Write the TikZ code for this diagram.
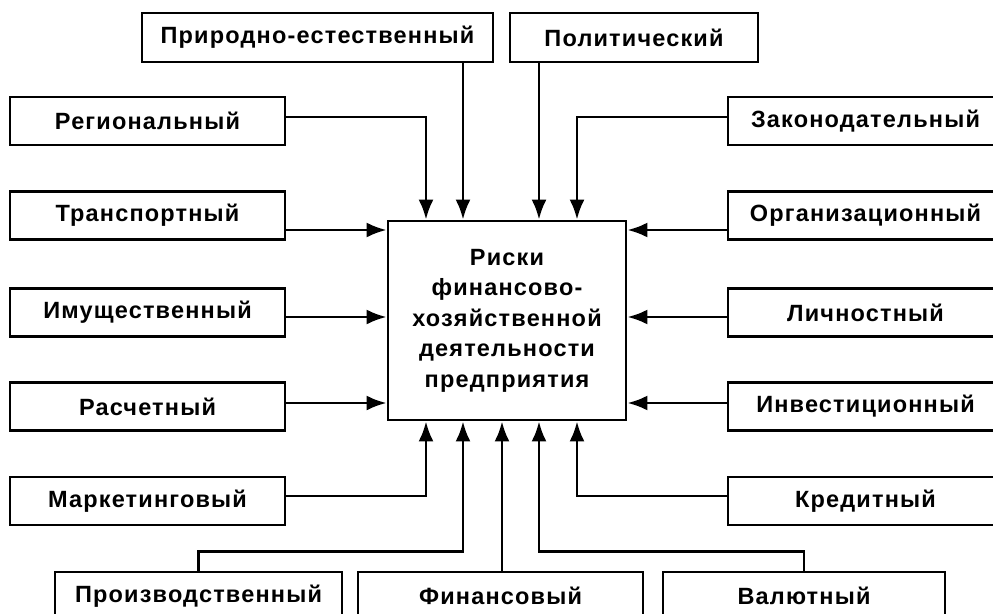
\documentclass[tikz,border=0pt]{standalone}
\usepackage{fontspec}
\setmainfont{Liberation Sans}[LetterSpace=5]
\usetikzlibrary{positioning}
\usetikzlibrary{calc}
\usetikzlibrary{arrows.meta}

\begin{document}
\begin{tikzpicture}[x=1pt, y=-1pt,
        every node/.style={draw, line width=2.8pt, font=\bfseries\fontsize{23.5}{30.5}\selectfont, align=center, inner sep=0pt},
        factor/.style={minimum width=275pt, minimum height=48pt},
        lower/.style={minimum height=48pt},
        link/.style={line width=2.8pt, -{Latex[length=20pt,width=15pt]}}]
    \useasboundingbox (0,0) rectangle (993,613);
    \clip (0,0) rectangle (993,613);

    \node[minimum width=238pt, minimum height=199pt] (risk) at (507,320.5)
        {Риски\\финансово-\\хозяйственной\\деятельности\\предприятия};

    % верхний ряд
    \node[minimum width=351pt, minimum height=49pt] (prirod) at (317.5,37.5) {Природно-естественный};
    \node[minimum width=248pt, minimum height=49pt] (polit) at (634,37.5) {Политический};

    % левый столбец
    \node[factor] (region) at (147.5,121) {Региональный};
    \node[factor] (trans) at (147.5,215.5) {Транспортный};
    \node[factor] (imush) at (147.5,312.5) {Имущественный};
    \node[factor] (rasch) at (147.5,406.5) {Расчетный};
    \node[factor] (market) at (147.5,501) {Маркетинговый};

    % правый столбец
    \node[factor] (zakon) at (865.5,121) {Законодательный};
    \node[factor] (org) at (865.5,215.5) {Организационный};
    \node[factor] (lichn) at (865.5,312.5) {Личностный};
    \node[factor] (invest) at (865.5,406.5) {Инвестиционный};
    \node[factor] (kredit) at (865.5,501) {Кредитный};

    % нижний ряд
    \node[lower, minimum width=287pt] (prod) at (198.5,596) {Производственный};
    \node[lower, minimum width=285pt] (fin) at (500.5,596) {Финансовый};
    \node[lower, minimum width=282pt] (valut) at (804,596) {Валютный};

    % точки входа стрелок
    \coordinate (t1) at ([xshift=-81pt]risk.north);
    \coordinate (t2) at ([xshift=-44pt]risk.north);
    \coordinate (t3) at ([xshift=32pt]risk.north);
    \coordinate (t4) at ([xshift=70pt]risk.north);
    \coordinate (b1) at ([xshift=-81pt]risk.south);
    \coordinate (b2) at ([xshift=-44pt]risk.south);
    \coordinate (b3) at ([xshift=-5pt]risk.south);
    \coordinate (b4) at ([xshift=32pt]risk.south);
    \coordinate (b5) at ([xshift=70pt]risk.south);
    \coordinate (l1) at ([yshift=90.5pt]risk.west);
    \coordinate (l2) at ([yshift=3.5pt]risk.west);
    \coordinate (l3) at ([yshift=-82.5pt]risk.west);
    \coordinate (r1) at ([yshift=90.5pt]risk.east);
    \coordinate (r2) at ([yshift=3.5pt]risk.east);
    \coordinate (r3) at ([yshift=-82.5pt]risk.east);

    \draw[link] ([yshift=4pt]region.east) -| (t1);
    \draw[link] (prirod.south -| t2) -- (t2);
    \draw[link] (polit.south -| t3) -- (t3);
    \draw[link] ([yshift=4pt]zakon.west) -| (t4);

    \draw[link] (trans.east |- l1) -- (l1);
    \draw[link] (imush.east |- l2) -- (l2);
    \draw[link] (rasch.east |- l3) -- (l3);
    \draw[link] (org.west |- r1) -- (r1);
    \draw[link] (lichn.west |- r2) -- (r2);
    \draw[link] (invest.west |- r3) -- (r3);

    \draw[link] ([yshift=5pt]market.east) -| (b1);
    \draw[link] (prod.north) -- ++(0,-19) -| (b2);
    \draw[link] (fin.north -| b3) -- (b3);
    \draw[link] (valut.north) -- ++(0,-19) -| (b4);
    \draw[link] ([yshift=5pt]kredit.west) -| (b5);
\end{tikzpicture}
\end{document}
